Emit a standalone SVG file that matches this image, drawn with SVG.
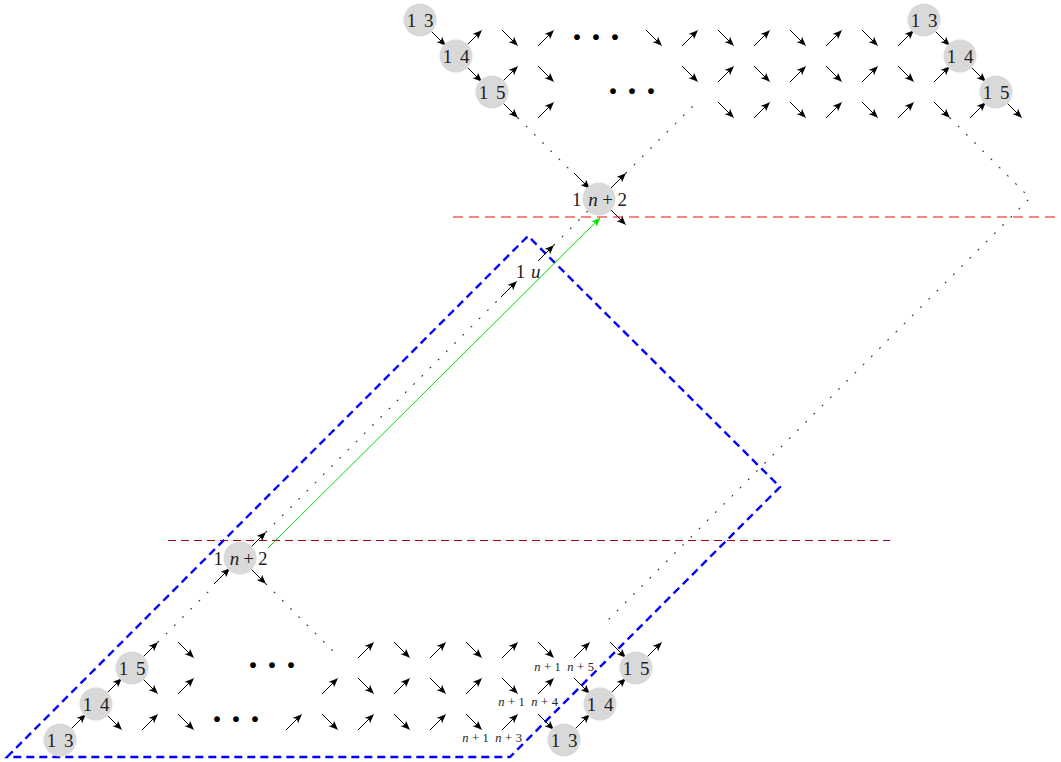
<svg xmlns="http://www.w3.org/2000/svg" width="1061" height="762" viewBox="0 0 1061 762">
<style>
.a{stroke:#000;stroke-width:1;fill:none;marker-end:url(#ah)}
.c{fill:#d9d9d9}
.t{font-family:"Liberation Serif",serif;font-size:19px;fill:#222;text-anchor:middle;word-spacing:3px}
.s{font-family:"Liberation Serif",serif;font-size:12.5px;fill:#222;text-anchor:middle}
.i{font-style:italic}
.d{stroke:#333;stroke-width:1.1;stroke-dasharray:1 10.6;fill:none;stroke-linecap:round}
.dots{font-family:"Liberation Serif",serif;font-size:36px;font-weight:bold;fill:#000;letter-spacing:7px}
</style>
<defs>
<marker id="ah" viewBox="-9 -4 10 8" refX="0" refY="0" markerWidth="10" markerHeight="8" markerUnits="userSpaceOnUse" orient="auto"><path d="M0.5,0 L-8.5,-3.7 L-6.5,0 L-8.5,3.7 Z" fill="#000"/></marker>
<marker id="gh" viewBox="-9 -4 10 8" refX="0" refY="0" markerWidth="10" markerHeight="8" markerUnits="userSpaceOnUse" orient="auto"><path d="M0.5,0 L-8.5,-3.6 L-6.5,0 L-8.5,3.6 Z" fill="#00dd00"/></marker>
<path id="se" class="a" d="M-8,-8 L7.5,7.5"/>
<path id="ne" class="a" d="M-8,8 L7.5,-7.5"/>
</defs>
<rect width="1061" height="762" fill="#fff"/>

<g id="guides">
<line x1="453" y1="217" x2="1056" y2="217" stroke="#ff4040" stroke-opacity="0.85" stroke-width="1.4" stroke-dasharray="10 6"/>
<line x1="168" y1="540.5" x2="890" y2="540.5" stroke="#a00010" stroke-width="1" stroke-dasharray="8 5"/>
<path d="M7,757 L528,236 L780,487 L510,757 Z" fill="none" stroke="#0000ff" stroke-width="2.4" stroke-dasharray="8 5"/>
</g>

<g id="connectors">
<path class="d" d="M518,118 L573,173"/>
<path class="d" d="M626,173 L698,101"/>
<path class="d" d="M950,118 L1030,198 L603,625"/>
<path class="d" d="M158,642 L214,586"/>
<path class="d" d="M266,584 L337,655"/>
<path class="d" d="M266,532 L501,297"/>
<path class="d" d="M554,245 L590,209"/>
<line x1="268" y1="548" x2="600" y2="218" stroke="#00dd00" stroke-width="1" marker-end="url(#gh)"/>
<use href="#se" x="438" y="38"/><use href="#ne" x="474" y="38"/><use href="#se" x="510" y="38"/><use href="#ne" x="546" y="38"/>
<use href="#se" x="654" y="38"/><use href="#ne" x="690" y="38"/><use href="#se" x="726" y="38"/><use href="#ne" x="762" y="38"/>
<use href="#se" x="798" y="38"/><use href="#ne" x="834" y="38"/><use href="#se" x="870" y="38"/><use href="#ne" x="906" y="38"/><use href="#se" x="942" y="38"/>
<use href="#se" x="474" y="74"/><use href="#ne" x="510" y="74"/><use href="#se" x="546" y="74"/>
<use href="#se" x="690" y="74"/><use href="#ne" x="726" y="74"/><use href="#se" x="762" y="74"/><use href="#ne" x="798" y="74"/>
<use href="#se" x="834" y="74"/><use href="#ne" x="870" y="74"/><use href="#se" x="906" y="74"/><use href="#ne" x="942" y="74"/><use href="#se" x="978" y="74"/>
<use href="#se" x="510" y="110"/><use href="#ne" x="546" y="110"/>
<use href="#se" x="726" y="110"/><use href="#ne" x="762" y="110"/><use href="#se" x="798" y="110"/><use href="#ne" x="834" y="110"/>
<use href="#se" x="870" y="110"/><use href="#ne" x="906" y="110"/><use href="#se" x="942" y="110"/><use href="#ne" x="978" y="110"/><use href="#se" x="1014" y="110"/>
<use href="#se" x="582" y="181"/><use href="#ne" x="618" y="181"/><use href="#se" x="618" y="217"/>
<use href="#ne" x="509" y="289"/><use href="#ne" x="546" y="253"/>
<use href="#ne" x="222" y="576"/><use href="#ne" x="258" y="540"/><use href="#se" x="258" y="576"/>
<use href="#ne" x="78" y="722"/><use href="#se" x="114" y="722"/><use href="#ne" x="150" y="722"/><use href="#se" x="186" y="722"/>
<use href="#ne" x="294" y="722"/><use href="#se" x="330" y="722"/><use href="#ne" x="366" y="722"/><use href="#se" x="402" y="722"/>
<use href="#ne" x="438" y="722"/><use href="#se" x="474" y="722"/><use href="#ne" x="510" y="722"/><use href="#se" x="546" y="722"/><use href="#ne" x="582" y="722"/>
<use href="#ne" x="114" y="686"/><use href="#se" x="150" y="686"/><use href="#ne" x="186" y="686"/>
<use href="#ne" x="330" y="686"/><use href="#se" x="366" y="686"/><use href="#ne" x="402" y="686"/><use href="#se" x="438" y="686"/>
<use href="#ne" x="474" y="686"/><use href="#se" x="510" y="686"/><use href="#ne" x="546" y="686"/><use href="#se" x="582" y="686"/><use href="#ne" x="618" y="686"/>
<use href="#ne" x="150" y="650"/><use href="#se" x="186" y="650"/>
<use href="#ne" x="366" y="650"/><use href="#se" x="402" y="650"/><use href="#ne" x="438" y="650"/><use href="#se" x="474" y="650"/>
<use href="#ne" x="510" y="650"/><use href="#se" x="546" y="650"/><use href="#ne" x="582" y="650"/><use href="#se" x="618" y="650"/><use href="#ne" x="654" y="650"/>
</g>

<g id="ellipses">
<text class="dots" x="571" y="48.5">···</text>
<text class="dots" x="607" y="102.5">···</text>
<text class="dots" x="247" y="676.5">···</text>
<text class="dots" x="211" y="730.5">···</text>
</g>

<g id="n13-top"><circle class="c" cx="420" cy="20" r="16.5"/><text class="t" x="420" y="27">1 3</text></g>
<g id="n14-top"><circle class="c" cx="456" cy="56" r="16.5"/><text class="t" x="456" y="63">1 4</text></g>
<g id="n15-top"><circle class="c" cx="492" cy="92" r="16.5"/><text class="t" x="492" y="99">1 5</text></g>
<g id="n13-topright"><circle class="c" cx="924" cy="20" r="16.5"/><text class="t" x="924" y="27">1 3</text></g>
<g id="n14-topright"><circle class="c" cx="960" cy="56" r="16.5"/><text class="t" x="960" y="63">1 4</text></g>
<g id="n15-topright"><circle class="c" cx="996" cy="92" r="16.5"/><text class="t" x="996" y="99">1 5</text></g>
<g id="n-np2-upper"><circle class="c" cx="599" cy="199" r="16.5"/><text class="t" x="599.5" y="206" style="word-spacing:2px">1 <tspan class="i">n</tspan><tspan dx="4.5">+</tspan><tspan dx="4.5">2</tspan></text></g>
<g id="n-1u"><text class="t" x="528" y="278" style="word-spacing:1px">1 <tspan class="i">u</tspan></text></g>
<g id="n-np2-lower"><circle class="c" cx="240" cy="558" r="16.5"/><text class="t" x="240.5" y="565" style="word-spacing:2px">1 <tspan class="i">n</tspan><tspan dx="4">+</tspan><tspan dx="4">2</tspan></text></g>
<g id="n13-bot"><circle class="c" cx="60" cy="740" r="16.5"/><text class="t" x="60" y="747">1 3</text></g>
<g id="n14-bot"><circle class="c" cx="96" cy="704" r="16.5"/><text class="t" x="96" y="711">1 4</text></g>
<g id="n15-bot"><circle class="c" cx="132" cy="668" r="16.5"/><text class="t" x="132" y="675">1 5</text></g>
<g id="n13-botright"><circle class="c" cx="564" cy="740" r="16.5"/><text class="t" x="564" y="747">1 3</text></g>
<g id="n14-botright"><circle class="c" cx="600" cy="704" r="16.5"/><text class="t" x="600" y="711">1 4</text></g>
<g id="n15-botright"><circle class="c" cx="636" cy="668" r="16.5"/><text class="t" x="636" y="675">1 5</text></g>
<g id="lbl-n5"><text class="s" x="564" y="671"><tspan class="i">n</tspan><tspan dx="3.5">+</tspan><tspan dx="3.5">1 </tspan><tspan class="i" dx="3.5">n</tspan><tspan dx="3.5">+</tspan><tspan dx="3.5">5</tspan></text></g>
<g id="lbl-n4"><text class="s" x="528" y="706"><tspan class="i">n</tspan><tspan dx="3.5">+</tspan><tspan dx="3.5">1 </tspan><tspan class="i" dx="3.5">n</tspan><tspan dx="3.5">+</tspan><tspan dx="3.5">4</tspan></text></g>
<g id="lbl-n3"><text class="s" x="492" y="742"><tspan class="i">n</tspan><tspan dx="3.5">+</tspan><tspan dx="3.5">1 </tspan><tspan class="i" dx="3.5">n</tspan><tspan dx="3.5">+</tspan><tspan dx="3.5">3</tspan></text></g>
</svg>
